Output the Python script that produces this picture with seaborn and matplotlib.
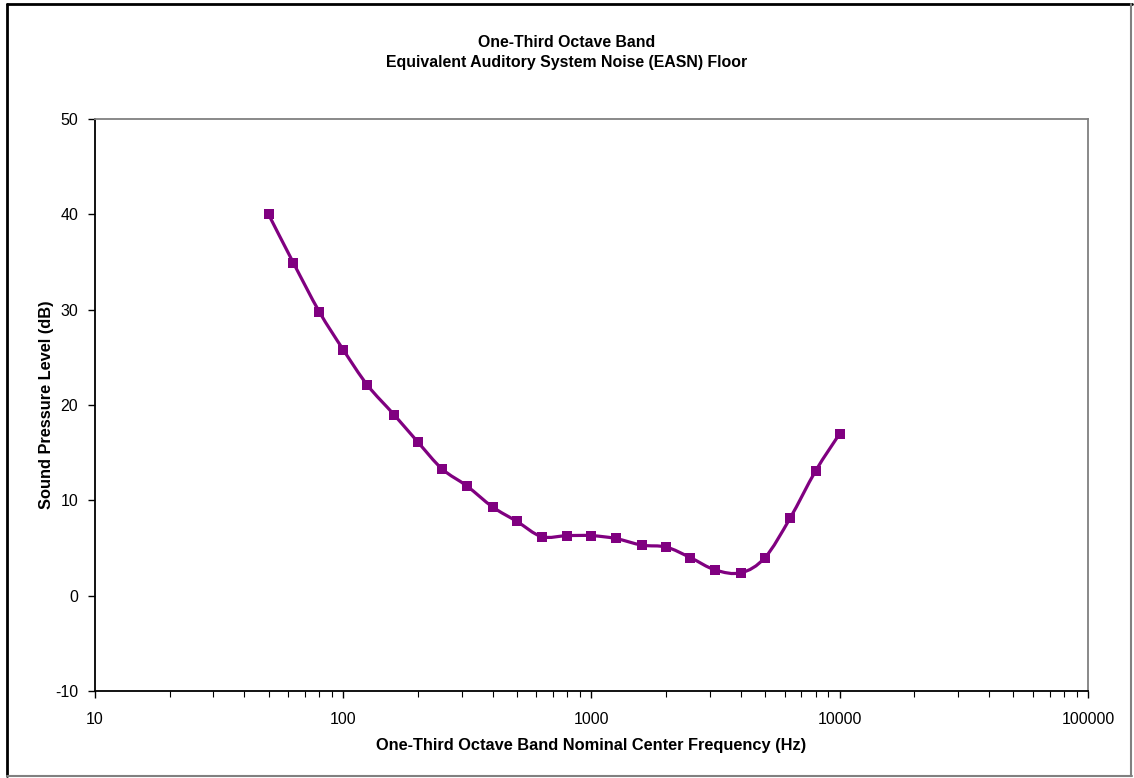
import numpy as np
import pandas as pd
import matplotlib
matplotlib.use("Agg")
import matplotlib.pyplot as plt
from matplotlib.path import Path
from matplotlib.patches import PathPatch
from matplotlib.lines import Line2D
from matplotlib.ticker import LogLocator, FixedLocator, NullFormatter
import seaborn as sns

# one-third octave band centre frequencies (Hz) and EASN floor (dB)
freqs = [50, 63, 80, 100, 125, 160, 200, 250, 315, 400, 500, 630, 800,
         1000, 1250, 1600, 2000, 2500, 3150, 4000, 5000, 6300, 8000, 10000]
spl = [40.0, 34.9, 29.8, 25.8, 22.1, 19.0, 16.1, 13.3, 11.5, 9.3, 7.8, 6.2,
       6.3, 6.3, 6.0, 5.3, 5.1, 4.0, 2.7, 2.4, 4.0, 8.1, 13.1, 17.0]
x_ticks = [10, 100, 1000, 10000, 100000]
y_ticks = [-10, 0, 10, 20, 30, 40, 50]

PURPLE = "#800080"

sns.set_theme(style="white")
plt.rcParams["font.family"] = ["Liberation Sans", "DejaVu Sans"]
plt.rcParams["text.color"] = "black"
plt.rcParams["axes.labelcolor"] = "black"


def smooth_path(xs, ys):
    ''' Excel style smoothed line: cubic bezier through the points,
        control points built in log-x space '''
    lx = np.log10(xs)
    y = np.array(ys, dtype=float)
    n = len(lx)
    verts = [(xs[0], y[0])]
    codes = [Path.MOVETO]
    for i in range(n - 1):
        p0 = (lx[i - 1], y[i - 1]) if i > 0 else (lx[i], y[i])
        p1 = (lx[i], y[i])
        p2 = (lx[i + 1], y[i + 1])
        p3 = (lx[i + 2], y[i + 2]) if i + 2 < n else p2
        c1 = (p1[0] + (p2[0] - p0[0]) / 6, p1[1] + (p2[1] - p0[1]) / 6)
        c2 = (p2[0] - (p3[0] - p1[0]) / 6, p2[1] - (p3[1] - p1[1]) / 6)
        for c in (c1, c2, p2):
            verts.append((10 ** c[0], c[1]))
            codes.append(Path.CURVE4)
    return Path(verts, codes)


df = pd.DataFrame({"freq": freqs, "spl": spl})

fig = plt.figure(figsize=(11.34, 7.78), dpi=100)
ax = fig.add_axes([0.0838, 0.1118, 0.8756, 0.7352])
ax.set_xscale("log")

ax.add_patch(PathPatch(smooth_path(freqs, spl), facecolor="none",
                       edgecolor=PURPLE, lw=2.3, zorder=2))
sns.scatterplot(data=df, x="freq", y="spl", marker="s", s=55,
                color=PURPLE, edgecolor=PURPLE, linewidth=0, ax=ax, zorder=3)

ax.set_xlim(10, 100000)
ax.set_ylim(-10, 50)
ax.xaxis.set_major_locator(FixedLocator(x_ticks))
ax.set_xticklabels([str(t) for t in x_ticks])
ax.xaxis.set_minor_locator(LogLocator(base=10, subs=np.arange(2, 10)))
ax.xaxis.set_minor_formatter(NullFormatter())
ax.set_yticks(y_ticks)
ax.set_yticklabels([str(t) for t in y_ticks])

ax.tick_params(axis="both", which="major", direction="out", length=5,
               width=1, color="black", labelsize=11.5, labelcolor="black",
               bottom=True, left=True)
ax.tick_params(axis="x", which="major", pad=10)
ax.tick_params(axis="y", which="major", pad=7)
ax.tick_params(axis="x", which="minor", direction="out", length=4,
               width=0.8, color="black", bottom=True)

for side in ["left", "bottom"]:
    ax.spines[side].set_color("black")
    ax.spines[side].set_linewidth(1.3)
for side in ["top", "right"]:
    ax.spines[side].set_color("#808080")
    ax.spines[side].set_linewidth(1.3)

ax.set_xlabel("One-Third Octave Band Nominal Center Frequency (Hz)",
              fontsize=11.8, fontweight="bold", labelpad=8)
ax.set_ylabel("Sound Pressure Level (dB)", fontsize=11.8, fontweight="bold",
              labelpad=1)
fig.text(0.5, 0.9325, "One-Third Octave Band\nEquivalent Auditory System Noise (EASN) Floor",
         ha="center", va="center", fontsize=11.4, fontweight="bold",
         linespacing=1.35)

# outer chart border: dark on top/left, grey on bottom/right
fig.add_artist(Line2D([0.0065, 0.0065], [0.0025, 0.995], color="black", lw=2.0))
fig.add_artist(Line2D([0.0065, 0.998], [0.995, 0.995], color="black", lw=2.0))
fig.add_artist(Line2D([0.9975, 0.9975], [0.0025, 0.995], color="#808080", lw=1.5))
fig.add_artist(Line2D([0.0065, 0.998], [0.0025, 0.0025], color="#808080", lw=1.5))

fig.savefig("out.png", dpi=100)
